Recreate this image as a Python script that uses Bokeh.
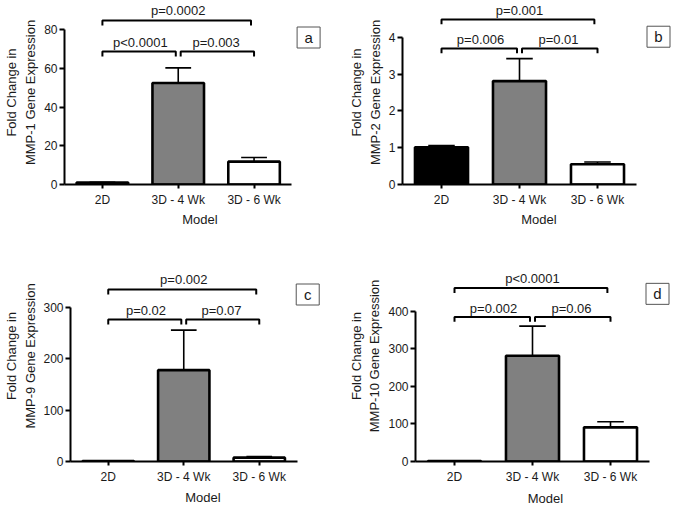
from bokeh.plotting import figure
from bokeh.layouts import column, row
from bokeh.models import FixedTicker, ColumnDataSource, LinearAxis
from bokeh.core.properties import value
from bokeh.embed import file_html
from bokeh.resources import INLINE

# ---------------- data ----------------
categories = ["2D", "3D - 4 Wk", "3D - 6 Wk"]
cat_x = [1, 2, 3]

mmp1_mean = [1.0, 52.4, 11.8]
mmp1_sem = [0.2, 7.8, 2.1]
mmp2_mean = [1.01, 2.81, 0.55]
mmp2_sem = [0.05, 0.61, 0.06]
mmp9_mean = [1.0, 178.0, 7.5]
mmp9_sem = [0.3, 78.0, 2.0]
mmp10_mean = [1.0, 282.0, 91.0]
mmp10_sem = [0.3, 79.0, 15.0]

# p-values: [2D vs 4Wk, 4Wk vs 6Wk, 2D vs 6Wk]
mmp1_p = ["p<0.0001", "p=0.003", "p=0.0002"]
mmp2_p = ["p=0.006", "p=0.01", "p=0.001"]
mmp9_p = ["p=0.02", "p=0.07", "p=0.002"]
mmp10_p = ["p=0.002", "p=0.06", "p<0.0001"]

mmp1_ticks = [0, 20, 40, 60, 80]
mmp2_ticks = [0, 1, 2, 3, 4]
mmp9_ticks = [0, 100, 200, 300]
mmp10_ticks = [0, 100, 200, 300, 400]

gene_names = ["MMP-1", "MMP-2", "MMP-9", "MMP-10"]
panel_letters = ["a", "b", "c", "d"]
ytitle_line1 = "Fold Change in"

bar_colors = ["black", "#808080", "white"]
FONT = "Liberation Sans"
TXT = "#1a1a1a"


def panel(means, sems, pvals, gene, yticks, letter,
          W, H, L, zero_y, sx, sy, low_px, top_px, box_x, box_y,
          s1, s2, xlab_standoff):
    x_end = 0.5 + (W - L) / sx
    y_end = zero_y / sy
    p = figure(width=W, height=H, x_range=(0.5, x_end), y_range=(0, y_end),
               output_backend="svg", toolbar_location=None, tools="", title=None,
               min_border_left=L, min_border_right=0, min_border_top=0,
               min_border_bottom=H - zero_y)
    p.grid.visible = False
    p.outline_line_color = None
    p.background_fill_color = "white"
    p.border_fill_color = "white"

    # error bars (upper only)
    err = [m + s for m, s in zip(means, sems)]
    cap = 0.17
    p.segment(x0=cat_x, y0=means, x1=cat_x, y1=err, line_color="black", line_width=1.6)
    p.segment(x0=[x - cap for x in cat_x], y0=err, x1=[x + cap for x in cat_x], y1=err,
              line_color="black", line_width=1.6)

    # bars
    src = ColumnDataSource(dict(x=cat_x, top=means, color=bar_colors))
    p.vbar(x="x", top="top", bottom=0, width=0.68, fill_color="color",
           line_color="black", line_width=2.6, source=src)

    # significance brackets
    drop = 5 / sy
    gap = 2.5 / sx
    y_low = low_px / sy
    y_top = top_px / sy
    xs = [[1, 1, 2 - gap, 2 - gap], [2 + gap, 2 + gap, 3, 3], [1, 1, 3 - 0.04, 3 - 0.04]]
    ys = [[y_low - drop, y_low, y_low, y_low - drop],
          [y_low - drop, y_low, y_low, y_low - drop],
          [y_top - drop, y_top, y_top, y_top - drop]]
    p.multi_line(xs=xs, ys=ys, line_color="black", line_width=2)
    p.text(x=[1.5, 2.5, 2.0],
           y=[y_low + 9 / sy, y_low + 9 / sy, y_top + 10 / sy],
           text=pvals, text_align="center", text_baseline="alphabetic",
           text_font=value(FONT), text_font_size="13px", text_color=TXT)

    # panel letter box
    bx = 0.5 + (box_x - L) / sx
    by = (zero_y - box_y) / sy
    p.rect(x=[bx], y=[by], width=23, height=21, width_units="screen", height_units="screen",
           fill_color="white", line_color="#555555", line_width=1)
    p.text(x=[bx], y=[by], text=[letter], text_align="center", text_baseline="middle",
           text_font=value(FONT), text_font_size="15px", text_color=TXT)

    # y axis
    ya = p.yaxis[0]
    ya.ticker = FixedTicker(ticks=yticks)
    ya.bounds = (0, yticks[-1])
    ya.axis_line_width = 2
    ya.axis_line_color = "black"
    ya.major_tick_line_width = 2
    ya.major_tick_out = 5
    ya.major_tick_in = 0
    ya.minor_tick_line_color = None
    ya.major_label_text_font = FONT
    ya.major_label_text_font_size = "12px"
    ya.major_label_text_color = TXT
    ya.major_label_standoff = 2
    ya.axis_label = gene + " Gene Expression"
    ya.axis_label_text_font = FONT
    ya.axis_label_text_font_size = "13px"
    ya.axis_label_text_font_style = "normal"
    ya.axis_label_text_color = TXT
    ya.axis_label_standoff = s1

    # outer (first) line of the y title, as a bare axis
    ya2 = LinearAxis(ticker=FixedTicker(ticks=[]), axis_line_color=None,
                     major_tick_line_color=None, minor_tick_line_color=None,
                     major_tick_out=0, major_label_standoff=0,
                     axis_label=ytitle_line1, axis_label_text_font=FONT,
                     axis_label_text_font_size="13px", axis_label_text_font_style="normal",
                     axis_label_text_color=TXT, axis_label_standoff=s2)
    p.add_layout(ya2, "left")

    # x axis
    xa = p.xaxis[0]
    xa.ticker = FixedTicker(ticks=cat_x)
    xa.major_label_overrides = {x: c for x, c in zip(cat_x, categories)}
    xa.bounds = (0.5, 3.5)
    xa.axis_line_width = 2
    xa.axis_line_color = "black"
    xa.major_tick_line_width = 2
    xa.major_tick_out = 4
    xa.major_tick_in = 0
    xa.minor_tick_line_color = None
    xa.major_label_text_font = FONT
    xa.major_label_text_font_size = "12px"
    xa.major_label_text_color = TXT
    xa.major_label_standoff = 4
    xa.axis_label = "Model"
    xa.axis_label_text_font = FONT
    xa.axis_label_text_font_size = "13px"
    xa.axis_label_text_font_style = "normal"
    xa.axis_label_text_color = TXT
    xa.axis_label_standoff = xlab_standoff
    return p


pa = panel(mmp1_mean, mmp1_sem, mmp1_p, gene_names[0], mmp1_ticks, panel_letters[0],
           W=335, H=250, L=58, zero_y=184, sx=77.5, sy=155 / 80, low_px=133, top_px=164,
           box_x=307.5, box_y=37, s1=3, s2=2, xlab_standoff=2)
pb = panel(mmp2_mean, mmp2_sem, mmp2_p, gene_names[1], mmp2_ticks, panel_letters[1],
           W=340, H=250, L=67, zero_y=193, sx=78, sy=38.6, low_px=142.6, top_px=173,
           box_x=323, box_y=38, s1=3, s2=1, xlab_standoff=2)
pc = panel(mmp9_mean, mmp9_sem, mmp9_p, gene_names[2], mmp9_ticks, panel_letters[2],
           W=335, H=260, L=63, zero_y=211, sx=77.5, sy=154 / 300, low_px=142, top_px=172,
           box_x=306.5, box_y=44, s1=2, s2=2, xlab_standoff=3)
pd_ = panel(mmp10_mean, mmp10_sem, mmp10_p, gene_names[3], mmp10_ticks, panel_letters[3],
            W=340, H=260, L=80, zero_y=219, sx=78, sy=155.7 / 400, low_px=150, top_px=180,
            box_x=322, box_y=45, s1=3, s2=1, xlab_standoff=4)

layout = column(row(pa, pb), row(pc, pd_))

open("out.html", "w").write(file_html(layout, INLINE))
